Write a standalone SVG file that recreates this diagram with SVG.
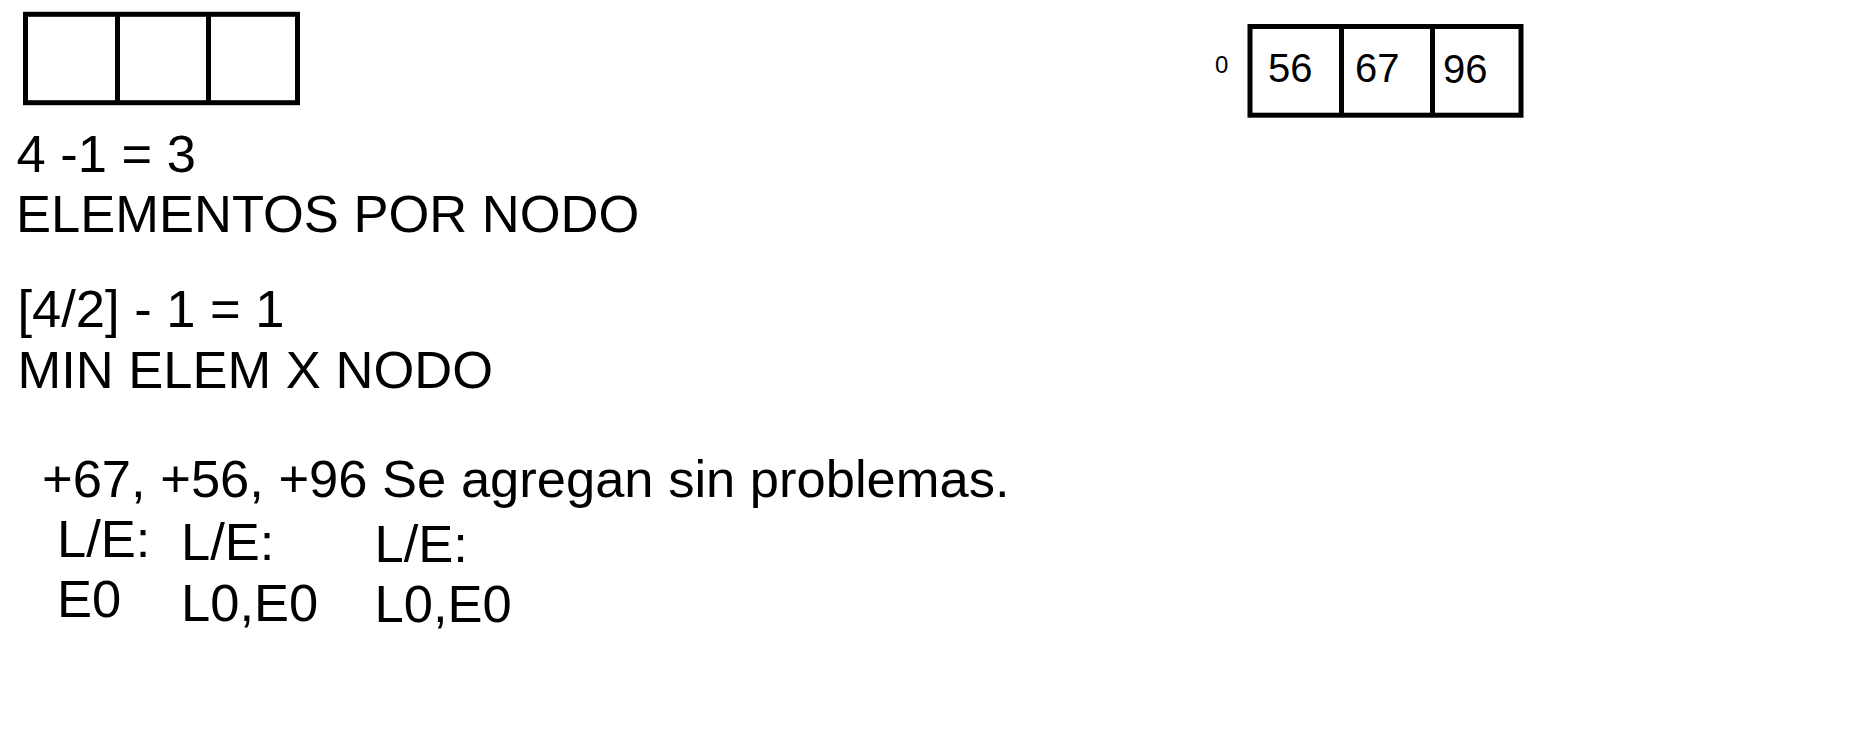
<svg xmlns="http://www.w3.org/2000/svg" width="1864" height="736" viewBox="0 0 1864 736">
<style>
.box{fill:#fff;stroke:#000;stroke-width:5}
.div{stroke:#000;stroke-width:5}
.t{font-family:"Liberation Sans",Arial,sans-serif;font-size:52.5px;fill:#000}
.v{font-family:"Liberation Sans",Arial,sans-serif;font-size:40px;fill:#000}
.i{font-family:"Liberation Sans",Arial,sans-serif;font-size:24px;fill:#000}
</style>
<rect x="0" y="0" width="1864" height="736" fill="#fff"/>
<g id="node-empty">
<rect class="box" x="25.5" y="14.3" width="272" height="88.4"/>
<line class="div" x1="117.5" y1="14.3" x2="117.5" y2="102.7"/>
<line class="div" x1="208.5" y1="14.3" x2="208.5" y2="102.7"/>
</g>
<g id="node-0">
<rect class="box" x="1250" y="26.5" width="271" height="88.7"/>
<line class="div" x1="1341.5" y1="26.5" x2="1341.5" y2="115.2"/>
<line class="div" x1="1432.5" y1="26.5" x2="1432.5" y2="115.2"/>
<text class="i" x="1215" y="73">0</text>
<text class="v" x="1268" y="82">56</text>
<text class="v" x="1355" y="82">67</text>
<text class="v" x="1443" y="83">96</text>
</g>
<g id="connectors"></g>
<g id="notes">
<text class="t" x="16.5" y="172">4 -1 = 3</text>
<text class="t" x="16" y="232">ELEMENTOS POR NODO</text>
<text class="t" x="17.5" y="327">[4/2] - 1 = 1</text>
<text class="t" x="17.5" y="388">MIN ELEM X NODO</text>
<text class="t" x="42" y="497">+67, +56, +96 Se agregan sin problemas.</text>
<text class="t" x="57" y="557">L/E:</text>
<text class="t" x="181" y="560">L/E:</text>
<text class="t" x="374.5" y="562">L/E:</text>
<text class="t" x="57" y="617">E0</text>
<text class="t" x="181" y="621">L0,E0</text>
<text class="t" x="374.5" y="622">L0,E0</text>
</g>
</svg>
